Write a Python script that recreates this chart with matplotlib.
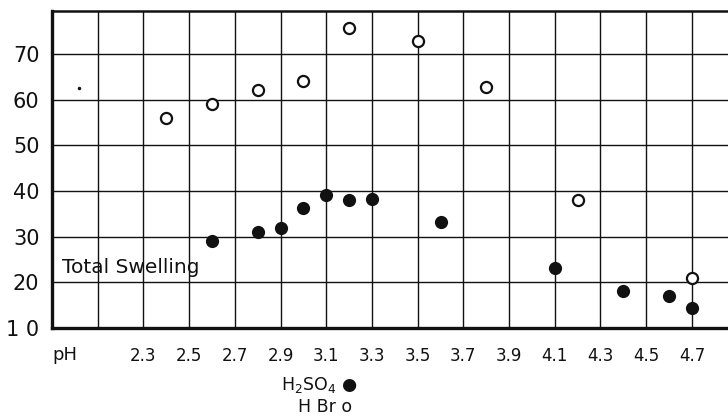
import numpy as np
import matplotlib
matplotlib.use("Agg")
import matplotlib.pyplot as plt

# values
ph_h2so4 = [2.6, 2.8, 2.9, 3.0, 3.1, 3.2, 3.3, 3.6, 4.1, 4.4, 4.6, 4.7]
sw_h2so4 = [29, 31, 32, 36.3, 39.1, 38, 38.2, 33.2, 23.1, 18.1, 17, 14.4]
ph_hbr = [2.4, 2.6, 2.8, 3.0, 3.2, 3.5, 3.8, 4.2, 4.7]
sw_hbr = [56, 59, 62, 64, 75.6, 72.8, 62.7, 38, 21]
stray_x = [2.02]
stray_y = [62.5]

xgrid = [1.9, 2.1, 2.3, 2.5, 2.7, 2.9, 3.1, 3.3, 3.5, 3.7, 3.9, 4.1, 4.3, 4.5, 4.7]
xlabels = ['', '', '2.3', '2.5', '2.7', '2.9', '3.1', '3.3', '3.5', '3.7', '3.9', '4.1', '4.3', '4.5', '4.7']
yticks = [10, 20, 30, 40, 50, 60, 70]
ylabels = ['1 0', '20', '30', '40', '50', '60', '70']

ink = '#111111'
fig = plt.figure(figsize=(7.28, 4.18), dpi=100)
ax = fig.add_axes([52/728, 1-328/418, 1-52/728, (328-11)/418])

ax.plot(ph_h2so4, sw_h2so4, 'o', color=ink, ms=9.5, mew=0, zorder=5)
ax.plot(ph_hbr, sw_hbr, 'o', mfc='white', mec=ink, ms=8, mew=1.6, zorder=5)
ax.plot(stray_x, stray_y, 'o', color=ink, ms=2.5, mew=0, zorder=5)

ax.set_xlim(1.9, 4.858)
ax.set_ylim(10, 79.4)
ax.set_xticks(xgrid)
ax.set_xticklabels(xlabels, fontsize=12, color=ink)
ax.set_yticks(yticks)
ax.set_yticklabels(ylabels, fontsize=15, color=ink)
ax.tick_params(axis='both', length=0)
ax.tick_params(axis='x', pad=14)
ax.tick_params(axis='y', pad=9)
ax.grid(True, color=ink, lw=1.0)
ax.set_axisbelow(True)

ax.spines['right'].set_visible(False)
ax.spines['left'].set_linewidth(2.4)
ax.spines['bottom'].set_linewidth(2.4)
ax.spines['top'].set_linewidth(1.8)
for s in ax.spines.values():
    s.set_color(ink)

ax.text(1.945, 23.2, 'Total Swelling', fontsize=14.5, color=ink, va='center', ha='left')

fig.text(52/728, 1-355/418, 'pH', fontsize=13, color=ink, va='center', ha='left')
fig.text(357/728, 1-385/418, r'H$_2$SO$_4$ ●', fontsize=12.5, color=ink, va='center', ha='right')
fig.text(352/728, 1-407/418, 'H Br o', fontsize=12.5, color=ink, va='center', ha='right')

fig.savefig('out.png', dpi=100, facecolor='white')
